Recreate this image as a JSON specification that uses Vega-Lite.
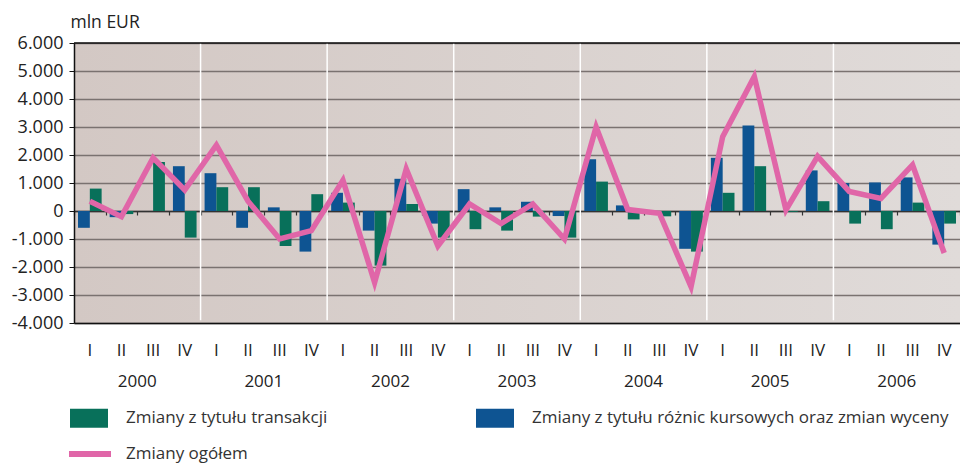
{
  "$schema": "https://vega.github.io/schema/vega-lite/v6.json",
  "width": 886,
  "height": 280,
  "autosize": {"type": "none"},
  "padding": {"left": 74, "top": 43, "right": 0, "bottom": 141},
  "background": "white",
  "config": {
    "font": "Open Sans",
    "view": {
      "stroke": null,
      "fill": {"gradient": "linear", "x1": 0, "y1": 0, "x2": 1, "y2": 0,
        "stops": [{"offset": 0, "color": "#d3c8c4"}, {"offset": 1, "color": "#e0dbd9"}]}
    },
    "axis": {"labelFont": "Open Sans", "titleFont": "Open Sans", "labelColor": "#222", "titleColor": "#222", "labelOverlap": false}
  },
  "datasets": {
    "bars": [
      {"q": "2000-I", "s": "B", "v": -600}, {"q": "2000-I", "s": "G", "v": 800},
      {"q": "2000-II", "s": "B", "v": -220}, {"q": "2000-II", "s": "G", "v": -110},
      {"q": "2000-III", "s": "B", "v": 0}, {"q": "2000-III", "s": "G", "v": 1750},
      {"q": "2000-IV", "s": "B", "v": 1600}, {"q": "2000-IV", "s": "G", "v": -950},
      {"q": "2001-I", "s": "B", "v": 1350}, {"q": "2001-I", "s": "G", "v": 850},
      {"q": "2001-II", "s": "B", "v": -600}, {"q": "2001-II", "s": "G", "v": 850},
      {"q": "2001-III", "s": "B", "v": 130}, {"q": "2001-III", "s": "G", "v": -1250},
      {"q": "2001-IV", "s": "B", "v": -1450}, {"q": "2001-IV", "s": "G", "v": 600},
      {"q": "2002-I", "s": "B", "v": 650}, {"q": "2002-I", "s": "G", "v": 300},
      {"q": "2002-II", "s": "B", "v": -700}, {"q": "2002-II", "s": "G", "v": -1950},
      {"q": "2002-III", "s": "B", "v": 1150}, {"q": "2002-III", "s": "G", "v": 250},
      {"q": "2002-IV", "s": "B", "v": -450}, {"q": "2002-IV", "s": "G", "v": -950},
      {"q": "2003-I", "s": "B", "v": 780}, {"q": "2003-I", "s": "G", "v": -650},
      {"q": "2003-II", "s": "B", "v": 130}, {"q": "2003-II", "s": "G", "v": -700},
      {"q": "2003-III", "s": "B", "v": 330}, {"q": "2003-III", "s": "G", "v": -200},
      {"q": "2003-IV", "s": "B", "v": -180}, {"q": "2003-IV", "s": "G", "v": -950},
      {"q": "2004-I", "s": "B", "v": 1850}, {"q": "2004-I", "s": "G", "v": 1050},
      {"q": "2004-II", "s": "B", "v": 200}, {"q": "2004-II", "s": "G", "v": -300},
      {"q": "2004-III", "s": "B", "v": -30}, {"q": "2004-III", "s": "G", "v": -190},
      {"q": "2004-IV", "s": "B", "v": -1350}, {"q": "2004-IV", "s": "G", "v": -1450},
      {"q": "2005-I", "s": "B", "v": 1900}, {"q": "2005-I", "s": "G", "v": 650},
      {"q": "2005-II", "s": "B", "v": 3050}, {"q": "2005-II", "s": "G", "v": 1600},
      {"q": "2005-III", "s": "B", "v": 0}, {"q": "2005-III", "s": "G", "v": -30},
      {"q": "2005-IV", "s": "B", "v": 1450}, {"q": "2005-IV", "s": "G", "v": 350},
      {"q": "2006-I", "s": "B", "v": 1000}, {"q": "2006-I", "s": "G", "v": -450},
      {"q": "2006-II", "s": "B", "v": 1020}, {"q": "2006-II", "s": "G", "v": -650},
      {"q": "2006-III", "s": "B", "v": 1200}, {"q": "2006-III", "s": "G", "v": 300},
      {"q": "2006-IV", "s": "B", "v": -1200}, {"q": "2006-IV", "s": "G", "v": -450}
    ],
    "total": [
      {"q": "2000-I", "v": 350}, {"q": "2000-II", "v": -200}, {"q": "2000-III", "v": 1900}, {"q": "2000-IV", "v": 750},
      {"q": "2001-I", "v": 2350}, {"q": "2001-II", "v": 350}, {"q": "2001-III", "v": -1000}, {"q": "2001-IV", "v": -700},
      {"q": "2002-I", "v": 1100}, {"q": "2002-II", "v": -2550}, {"q": "2002-III", "v": 1500}, {"q": "2002-IV", "v": -1250},
      {"q": "2003-I", "v": 250}, {"q": "2003-II", "v": -450}, {"q": "2003-III", "v": 250}, {"q": "2003-IV", "v": -1000},
      {"q": "2004-I", "v": 3000}, {"q": "2004-II", "v": 50}, {"q": "2004-III", "v": -80}, {"q": "2004-IV", "v": -2700},
      {"q": "2005-I", "v": 2650}, {"q": "2005-II", "v": 4800}, {"q": "2005-III", "v": 40}, {"q": "2005-IV", "v": 1950},
      {"q": "2006-I", "v": 700}, {"q": "2006-II", "v": 450}, {"q": "2006-III", "v": 1650}, {"q": "2006-IV", "v": -1500}
    ],
    "years": [
      {"q": "2001-I"}, {"q": "2002-I"}, {"q": "2003-I"}, {"q": "2004-I"}, {"q": "2005-I"}, {"q": "2006-I"}
    ]
  },
  "resolve": {"axis": {"x": "independent"}, "scale": {"x": "shared"}},
  "layer": [
    {
      "data": {"name": "years"},
      "mark": {"type": "rule", "color": "#ffffff", "strokeWidth": 1.5},
      "encoding": {
        "x": {"field": "q", "type": "ordinal", "bandPosition": 0,
          "scale": {"paddingInner": 0, "paddingOuter": 0},
          "axis": {"orient": "bottom", "offset": -112, "labels": false, "title": null, "grid": false,
            "domainColor": "#333333", "domainWidth": 1.5, "ticks": true, "tickBand": "extent",
            "tickSize": 4, "tickColor": "#333333", "tickWidth": 1.2, "tickCount": 100}},
        "y": {"datum": 6000, "type": "quantitative",
          "axis": {"values": [-4000, -3000, -2000, -1000, 0, 1000, 2000, 3000, 4000, 5000, 6000], "tickCount": 20}},
        "y2": {"datum": -3900}
      }
    },
    {
      "data": {"name": "bars"},
      "mark": {"type": "bar"},
      "encoding": {
        "x": {"field": "q", "type": "ordinal",
          "axis": {"orient": "bottom", "title": null, "ticks": false, "domainColor": "#111111", "domainWidth": 1.5,
            "labelExpr": "split(datum.value, '-')[1]", "labelAngle": 0, "labelFontSize": 17,
            "labelPadding": 19, "labelColor": "#222"}},
        "xOffset": {"field": "s", "type": "nominal",
          "scale": {"domain": ["B", "G"], "paddingInner": 0, "paddingOuter": 0.34}},
        "y": {"field": "v", "type": "quantitative",
          "scale": {"domain": [-4000, 6000], "nice": false, "zero": false},
          "axis": {"values": [-4000, -3000, -2000, -1000, 0, 1000, 2000, 3000, 4000, 5000, 6000], "tickCount": 20,
            "labelOverlap": false, "labelBound": false, "labelFlush": false,
            "labelExpr": "(datum.value < 0 ? '-' : '') + replace(format(abs(datum.value), ','), ',', '.')",
            "grid": true, "gridColor": "#7a7270", "gridWidth": 1.3,
            "domainColor": "#111111", "domainWidth": 1.5, "tickColor": "#111111", "tickSize": 5,
            "labelFontSize": 18, "labelPadding": 6,
            "title": "mln EUR", "titleAngle": 0, "titleAlign": "left", "titleBaseline": "bottom",
            "titleX": -4, "titleY": -12, "titleFontSize": 17.5, "titleFontWeight": "normal"}},
        "color": {"field": "s", "type": "nominal",
          "scale": {"domain": ["G", "B"], "range": ["#08705a", "#0e5492"]},
          "legend": {"orient": "none", "legendX": -4, "legendY": 356, "direction": "horizontal", "columns": 2,
            "title": null, "labelExpr": "datum.value == 'G' ? 'Zmiany z tytułu transakcji' : 'Zmiany z tytułu różnic kursowych oraz zmian wyceny'",
            "symbolType": "M-1,-0.5H1V0.5H-1Z", "symbolSize": 1444, "symbolStrokeWidth": 0,
            "labelFontSize": 17, "labelColor": "#333", "labelOffset": 18, "columnPadding": 148, "labelLimit": 500}}
      }
    },
    {
      "data": {"name": "total"},
      "mark": {"type": "line", "strokeWidth": 5.5, "strokeJoin": "miter", "strokeCap": "butt"},
      "encoding": {
        "x": {"field": "q", "type": "ordinal",
          "axis": {"orient": "bottom", "title": null, "ticks": false, "domain": false, "grid": false,
            "values": ["2000-II", "2001-II", "2002-II", "2003-II", "2004-II", "2005-II", "2006-II"],
            "labelExpr": "split(datum.value, '-')[0]", "labelAngle": 0, "labelOffset": 15.8,
            "labelFontSize": 17, "labelPadding": 50, "labelColor": "#222"}},
        "y": {"field": "v", "type": "quantitative",
          "axis": {"values": [-4000, -3000, -2000, -1000, 0, 1000, 2000, 3000, 4000, 5000, 6000], "tickCount": 20}},
        "stroke": {"datum": "Zmiany ogółem", "type": "nominal",
          "scale": {"range": ["#e066a8"]},
          "legend": {"orient": "none", "legendX": -8, "legendY": 387, "title": null,
            "symbolType": "stroke", "symbolSize": 1764, "symbolStrokeWidth": 6,
            "labelFontSize": 17, "labelColor": "#333", "labelOffset": 12}}
      }
    },
    {
      "data": {"values": [{"t": 1}]},
      "mark": {"type": "rule", "color": "#111111", "strokeWidth": 1.5},
      "encoding": {"y": {"datum": 6000, "type": "quantitative",
        "axis": {"values": [-4000, -3000, -2000, -1000, 0, 1000, 2000, 3000, 4000, 5000, 6000], "tickCount": 20}}}
    }
  ]
}
